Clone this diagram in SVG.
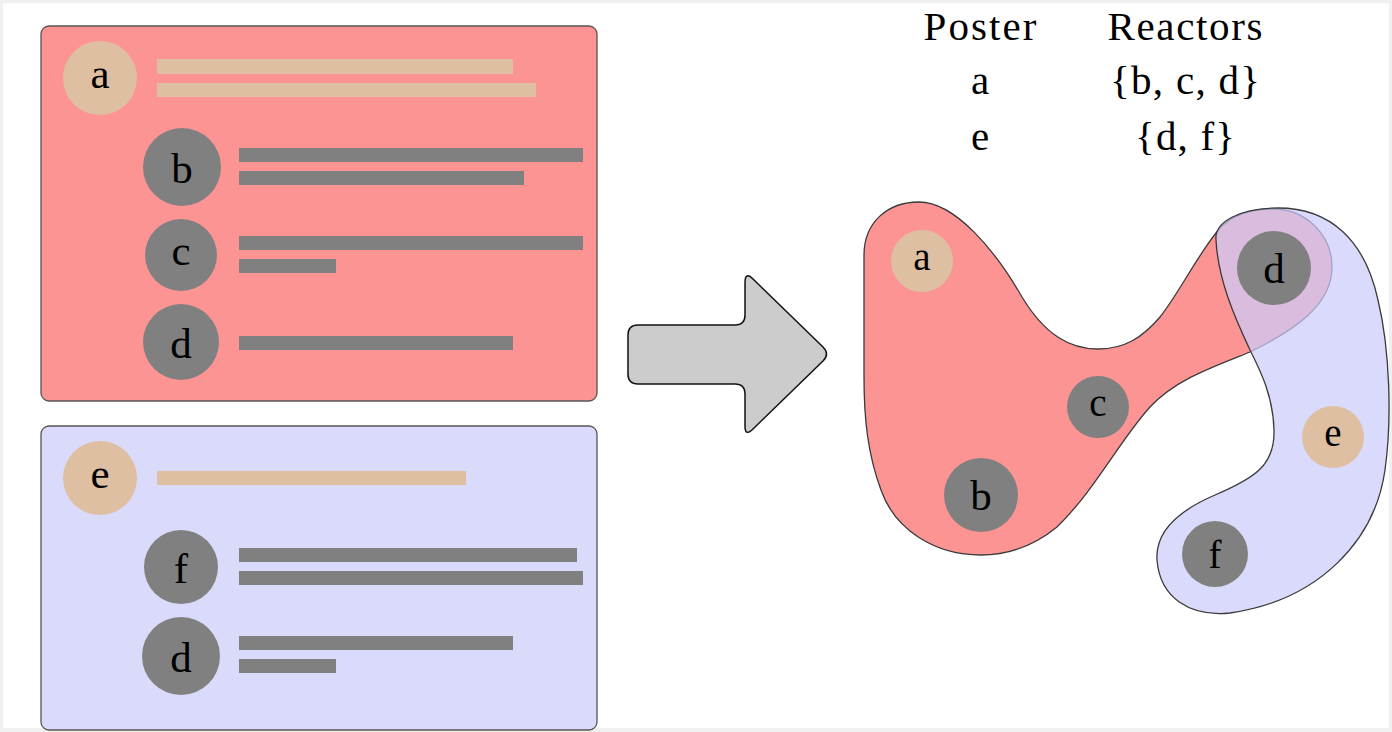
<svg xmlns="http://www.w3.org/2000/svg" width="1392" height="732" viewBox="0 0 1392 732">
<style>
.txt{font-family:"Liberation Serif","DejaVu Serif",serif;fill:#000;text-anchor:middle}
.big{font-size:43px}
.mid{font-size:39px}
.tbl{font-size:41px}
.tan{fill:#dfbfa1}
.gray{fill:#808080}
.box{stroke:#555;stroke-width:1.3}
.blob{stroke:#3a3a3a;stroke-width:1.3}
</style>
<rect x="0" y="0" width="1392" height="732" fill="#f0f0f0"/>
<rect x="3" y="3" width="1386" height="725" fill="#ffffff"/>

<g id="poster-a-box">
<rect class="box" x="41" y="26" width="556" height="375" rx="8" fill="#fd9494"/>
<circle class="tan" cx="100" cy="78" r="37"/>
<text class="txt big" x="100" y="88">a</text>
<rect class="tan" x="157" y="59" width="356" height="15"/>
<rect class="tan" x="157" y="83" width="379" height="14"/>
<circle class="gray" cx="182" cy="167" r="39"/>
<text class="txt big" x="182" y="183">b</text>
<rect class="gray" x="239" y="148" width="344" height="14"/>
<rect class="gray" x="239" y="171" width="285" height="14"/>
<circle class="gray" cx="181" cy="255" r="36"/>
<text class="txt big" x="181" y="265">c</text>
<rect class="gray" x="239" y="236" width="344" height="14"/>
<rect class="gray" x="239" y="259" width="97" height="14"/>
<circle class="gray" cx="181" cy="342" r="38"/>
<text class="txt big" x="181" y="358">d</text>
<rect class="gray" x="239" y="336" width="274" height="14"/>
</g>

<g id="poster-e-box">
<rect class="box" x="41" y="426" width="556" height="304" rx="8" fill="#dadafb"/>
<circle class="tan" cx="100" cy="478" r="37"/>
<text class="txt big" x="100" y="488">e</text>
<rect class="tan" x="157" y="471" width="309" height="14"/>
<circle class="gray" cx="181" cy="567" r="37"/>
<text class="txt big" x="181" y="583">f</text>
<rect class="gray" x="239" y="548" width="338" height="14"/>
<rect class="gray" x="239" y="571" width="344" height="14"/>
<circle class="gray" cx="181" cy="656" r="39"/>
<text class="txt big" x="181" y="672">d</text>
<rect class="gray" x="239" y="636" width="274" height="14"/>
<rect class="gray" x="239" y="659" width="97" height="14"/>
</g>

<g id="big-arrow">
<path d="M638,325 L735,325 Q745,325 745,315 L745,283 Q745,271 753,279 L823,347 Q830,354 823,361 L753,429 Q745,437 745,426 L745,394 Q745,384 735,384 L638,384 Q628,384 628,374 L628,335 Q628,325 638,325 Z" fill="#cccccc" stroke="#111" stroke-width="1.5" stroke-linejoin="round"/>
</g>

<g id="table">
<text class="txt tbl" x="980" y="40" textLength="113" lengthAdjust="spacing">Poster</text>
<text class="txt tbl" x="1185" y="40" textLength="155" lengthAdjust="spacing">Reactors</text>
<text class="txt tbl" x="980" y="94">a</text>
<text class="txt tbl" x="1185" y="94" textLength="150" lengthAdjust="spacing">{b, c, d}</text>
<text class="txt tbl" x="1185" y="150" textLength="100" lengthAdjust="spacing">{d, f}</text>
<text class="txt tbl" x="980" y="150">e</text>
</g>

<g id="hyperedges">
<path id="edge-a" class="blob" fill="#fd9494" d="M864,377 L864,255 C864,222 888,202 919,202 C955,202 995,250 1022,297 C1045,335 1070,349 1098,349 C1125,349 1143,337 1160,317 C1180,292 1200,250 1221,227 C1235,213 1255,209 1273,209 C1306,209 1332,235 1332,267 C1332,305 1295,330 1250,352 C1210,368 1175,380 1150,407 C1120,440 1095,490 1057,527 C1035,545 1010,555 981,555 C935,555 895,530 881,490 C868,455 864,420 864,377 Z"/>
<path id="edge-e" class="blob" fill="rgba(204,204,251,0.72)" d="M1216,240 C1214,222 1240,208 1278,208 C1330,208 1365,240 1378,300 C1390,350 1392,420 1385,470 C1375,540 1320,600 1230,613 C1190,617 1160,598 1157,560 C1155,530 1180,510 1215,495 C1255,478 1275,465 1274,430 C1273,395 1260,370 1250,350 C1235,318 1218,280 1216,240 Z"/>
</g>

<g id="node-a"><circle class="tan" cx="922" cy="261" r="31"/><text class="txt mid" x="922" y="270">a</text></g>
<g id="node-d"><circle class="gray" cx="1274" cy="268" r="37"/><text class="txt big" x="1274" y="283">d</text></g>
<g id="node-c"><circle class="gray" cx="1098" cy="407" r="31"/><text class="txt mid" x="1098" y="416">c</text></g>
<g id="node-b"><circle class="gray" cx="981" cy="495" r="37"/><text class="txt big" x="981" y="510">b</text></g>
<g id="node-e"><circle class="tan" cx="1333" cy="437" r="31"/><text class="txt mid" x="1333" y="446">e</text></g>
<g id="node-f"><circle class="gray" cx="1215" cy="554" r="33"/><text class="txt mid" x="1215" y="568">f</text></g>
</svg>
